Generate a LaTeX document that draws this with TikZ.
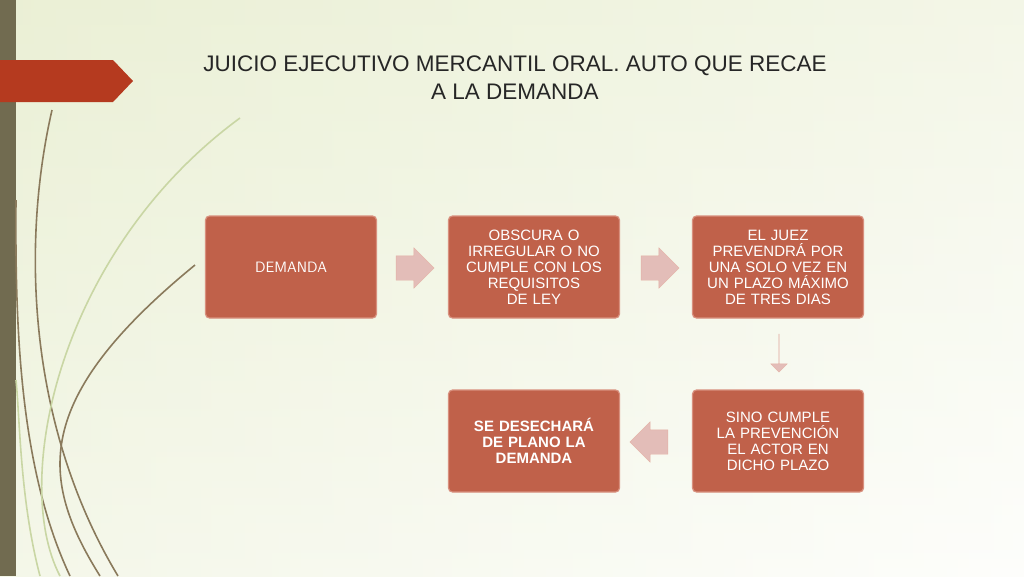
\documentclass[tikz,border=0pt]{standalone}
\usepackage{fontspec}
\setmainfont{Liberation Sans}
\usetikzlibrary{shapes.arrows}
\definecolor{boxfill}{HTML}{C0614A}
\definecolor{boxline}{HTML}{D8907E}
\definecolor{arrfill}{HTML}{E3BDB8}
\definecolor{tab}{HTML}{B53A1F}
\definecolor{bar}{HTML}{716B50}
\definecolor{stem}{HTML}{8A7A5C}
\definecolor{leaf}{HTML}{C9D6A4}
\definecolor{bgtop}{HTML}{E4EBC8}
\definecolor{bglow}{HTML}{FBFCF6}
\tikzset{
  stepbox/.style = {rounded corners=4pt, fill=boxfill, draw=boxline, line width=1.2pt,
    minimum width=171pt, minimum height=102pt, text width=150pt, align=center,
    text=white, font=\fontsize{15}{16}\selectfont},
  flow/.style = {single arrow, fill=arrfill, draw=boxline!70, thin,
    minimum height=38pt, single arrow head extend=8pt, inner xsep=0pt, inner ysep=12pt,
    shape border rotate=#1},
  grass/.style = {color=#1, line width=1.6pt}
}
\begin{document}
\hyphenpenalty=10000
\begin{tikzpicture}[x=1pt,y=-1pt]

    % Background
    \shade[shading angle=45, left color=bgtop, right color=bglow] (0,0) rectangle (1024,576);
    \shade[top color=bgtop!60!white, bottom color=white, opacity=0.6] (0,0) rectangle (1024,576);
    \useasboundingbox (0,0) rectangle (1024,576);
    \fill[bar] (0,0) rectangle (16,576);
    \fill[tab] (0,60) -- (113,60) -- (133,81) -- (113,102) -- (0,102) -- cycle;

    % Decoration
    \draw[grass={stem}] (118,576) .. controls (30,430) and (20,250) .. (52,110);
    \draw[grass={stem}] (100,576) .. controls (40,480) and (30,400) .. (195,265);
    \draw[grass={stem}] (70,576) .. controls (20,470) and (15,330) .. (16,200);
    \draw[grass={leaf}] (60,576) .. controls (10,480) and (60,250) .. (240,118);
    \draw[grass={leaf}] (40,576) .. controls (20,500) and (20,420) .. (16,380);

    % Title
    \node[font=\fontsize{22.5}{28}\selectfont, align=center, text=black!85] (title) at (515,78)
      {JUICIO EJECUTIVO MERCANTIL ORAL. AUTO QUE RECAE\\A LA DEMANDA};

    % Boxes
    \node[stepbox, font=\fontsize{15}{16}\selectfont\sffamily] (dem) at (291,267) {DEMANDA};
    \node[stepbox] (obs) at (534,267) {OBSCURA O IRREGULAR O NO CUMPLE CON LOS REQUISITOS DE LEY};
    \node[stepbox] (juez) at (778,267) {EL JUEZ PREVENDRÁ POR UNA SOLO VEZ EN UN PLAZO MÁXIMO DE TRES DIAS};
    \node[stepbox] (sino) at (778,441) {SINO CUMPLE LA PREVENCIÓN EL ACTOR EN DICHO PLAZO};
    \node[stepbox, font=\fontsize{15}{16}\selectfont\bfseries] (dese) at (534,441) {SE DESECHARÁ DE PLANO LA DEMANDA};

    % Arrows
    \node[flow=0] (a1) at (409,268) {};
    \node[flow=0] (a2) at (654,268) {};
    \node[flow=270] (a3) at (779,353) {};
    \node[flow=180] (a4) at (655,442) {};

\end{tikzpicture}
\end{document}
